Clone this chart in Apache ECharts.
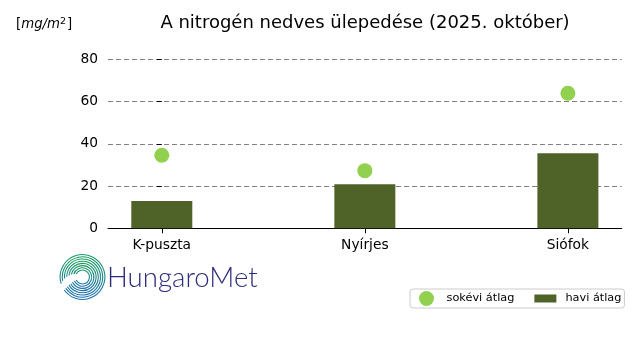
<!DOCTYPE html>
<html><head><meta charset="utf-8">
<script src="https://cdn.jsdelivr.net/npm/echarts@6/dist/echarts.min.js"></script>
<style>html,body{margin:0;padding:0;background:#fff}#c{width:640px;height:360px}</style>
</head><body><div id="c"></div>
<script>
const categories = ['K-puszta', 'Nyírjes', 'Siófok'];
const haviAtlag = [12.9, 20.9, 35.5];
const sokeviAtlag = [34.6, 27.3, 63.9];
const yTicks = [0, 20, 40, 60, 80];
const titleText = 'A nitrogén nedves ülepedése (2025. október)';

const FONT = 'DejaVu Sans';
const chart = echarts.init(document.getElementById('c'), null, {renderer: 'canvas'});

const logoArcs = [];
for (let i = 0; i < 8; i++) {
  const r = 7 + i * 2.2;
  logoArcs.push({
    type: 'arc',
    shape: {cx: 82.5, cy: 277, r: r,
      startAngle: (205 - i * 6) * Math.PI / 180,
      endAngle: (515 - i * 1.5) * Math.PI / 180, clockwise: true},
    style: {fill: 'none', lineWidth: 1.1,
      stroke: {type: 'linear', x: 0, y: 0, x2: 0, y2: 1,
        colorStops: [{offset: 0, color: '#18a05a'}, {offset: 1, color: '#1f6db5'}]}},
    silent: true
  });
}

chart.setOption({
  animation: false,
  backgroundColor: '#fff',
  title: [
    {text: titleText, left: 365, top: 14, textAlign: 'center', padding: 0,
     textStyle: {fontFamily: FONT, fontSize: 18, fontWeight: 'normal', color: '#000'}},
    {text: '{a|[}{i|mg/m}{s|2}{a|]}', left: 16, top: 17, padding: 0,
     textStyle: {fontWeight: 'normal', rich: {
       a: {fontFamily: FONT, fontSize: 13.3, fontWeight: 'normal', color: '#000'},
       i: {fontFamily: FONT, fontSize: 13.3, fontWeight: 'normal', fontStyle: 'italic', color: '#000'},
       s: {fontFamily: FONT, fontSize: 9.5, fontWeight: 'normal', color: '#000', verticalAlign: 'top', padding: [0, 1, 6, 0]}
     }}}
  ],
  legend: {
    left: 410, top: 289, orient: 'horizontal',
    padding: [2, 3, 2, 9],
    borderColor: '#cccccc', borderWidth: 1, borderRadius: 3,
    itemWidth: 22, itemHeight: 15, itemGap: 20,
    textStyle: {fontFamily: FONT, fontSize: 11.3, color: '#000', padding: [0, 0, 0, 4]},
    data: [
      {name: 'sokévi átlag', icon: 'circle'},
      {name: 'havi átlag', icon: 'path://M0 0L0.001 0M0 3.5H22V11.5H0ZM0 15L0.001 15'}
    ]
  },
  grid: {left: 108, right: 18.3, top: 59.3, bottom: 131.7, containLabel: false},
  xAxis: {
    type: 'value', min: -0.265, max: 2.265,
    axisLine: {show: true, lineStyle: {color: '#000', width: 1}},
    axisTick: {show: true, length: 5, lineStyle: {color: '#000'}, customValues: [0, 1, 2]},
    axisLabel: {show: true, margin: 10, customValues: [0, 1, 2],
      formatter: v => categories[Math.round(v)],
      fontFamily: FONT, fontSize: 13.8, color: '#000'},
    splitLine: {show: false}
  },
  yAxis: {
    type: 'value', min: yTicks[0], max: yTicks[yTicks.length - 1], interval: 20,
    axisLine: {show: false},
    axisTick: {show: true, length: 5, lineStyle: {color: '#000'}},
    axisLabel: {margin: 10, fontFamily: FONT, fontSize: 13.8, color: '#000'},
    splitLine: {show: true, lineStyle: {color: '#808080', width: 1, type: [5, 3]}}
  },
  series: [
    {name: 'sokévi átlag', type: 'scatter', z: 5, symbol: 'circle', symbolSize: 15,
     itemStyle: {color: '#92d050', opacity: 1},
     data: sokeviAtlag.map((v, i) => [i, v])},
    {name: 'havi átlag', type: 'bar', z: 3, barWidth: 61,
     itemStyle: {color: '#4f6228'},
     data: haviAtlag.map((v, i) => [i, v])}
  ],
  graphic: logoArcs.concat([
    {type: 'text', x: 107, y: 278, silent: true,
     style: {text: 'HungaroMet', fontFamily: 'Lato', fontWeight: 300, fontSize: 27.6, fill: '#2b2c7c',
       textVerticalAlign: 'middle', textAlign: 'left'}}
  ])
});
</script></body></html>
